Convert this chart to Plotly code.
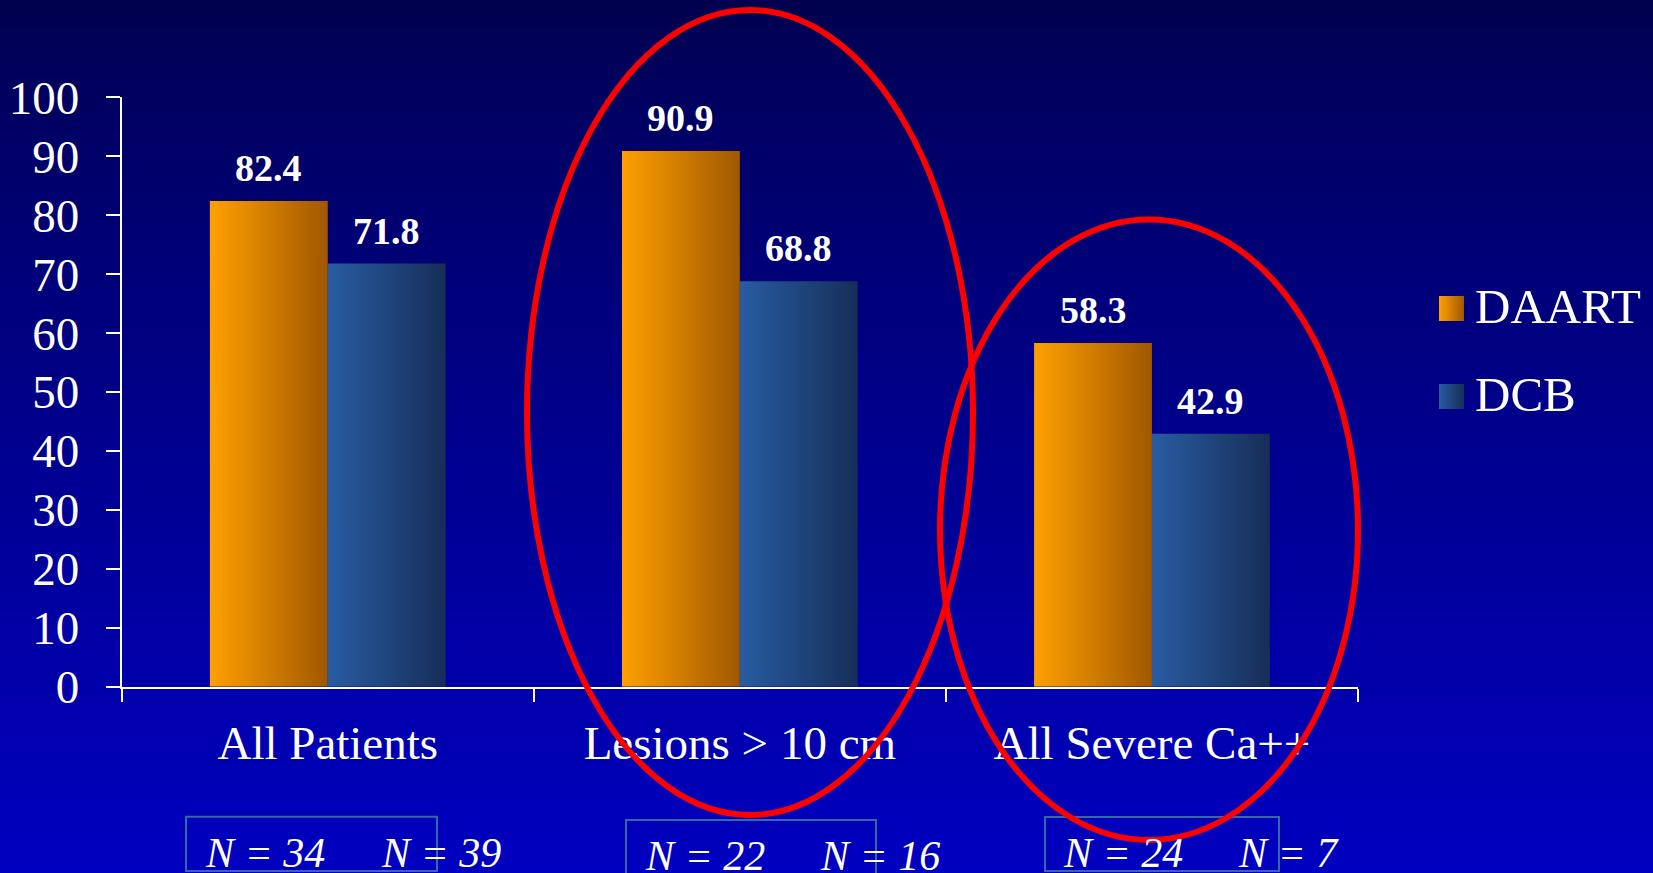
import plotly.graph_objects as go

# ---- data -------------------------------------------------------------
categories = ["All Patients", "Lesions > 10 cm", "All Severe Ca++"]
series_names = ["DAART", "DCB"]
daart_values = [82.4, 90.9, 58.3]
dcb_values = [71.8, 68.8, 42.9]
n_daart = [34, 22, 24]
n_dcb = [39, 16, 7]
y_ticks = list(range(0, 101, 10))

# ---- style ------------------------------------------------------------
W, H = 1653, 873
FONT = "Liberation Serif"
series_colors = {
    "DAART": ("#FFA000", "#A05800"),
    "DCB": ("#285CA2", "#162E58"),
}
BAR_W = 0.286          # width of one bar in category units
X_DOMAIN = [121.7 / W, 1358 / W]
Y_DOMAIN = [(H - 686.7) / H, (H - 97.3) / H]

fig = go.Figure()

# gradient-filled bars drawn as closed polygons on the data axes
for j, (name, values) in enumerate(zip(series_names, [daart_values, dcb_values])):
    c0, c1 = series_colors[name]
    for i, v in enumerate(values):
        center = i + (j - 0.5) * BAR_W
        left, right = center - BAR_W / 2, center + BAR_W / 2
        fig.add_trace(go.Scatter(
            x=[left, left, right, right, left],
            y=[0, v, v, 0, 0],
            mode="lines", line=dict(width=0),
            fill="toself",
            fillgradient=dict(type="horizontal", colorscale=[[0, c0], [1, c1]]),
            hoverinfo="skip", showlegend=False,
            xaxis="x", yaxis="y",
        ))
        fig.add_annotation(
            x=center, y=v, xref="x", yref="y",
            text=f"<b>{v}</b>", showarrow=False,
            yanchor="middle", yshift=33,
            font=dict(family=FONT, size=38, color="white"),
        )

# legend swatches (pixel-space overlay axes)
legend_rows = [(308.5, "DAART"), (396.5, "DCB")]
for y_px, name in legend_rows:
    c0, c1 = series_colors[name]
    fig.add_trace(go.Scatter(
        x=[1451.5], y=[y_px], mode="markers",
        marker=dict(symbol="square", size=25, color=c0,
                    gradient=dict(type="horizontal", color=c1),
                    line=dict(width=0)),
        hoverinfo="skip", showlegend=False, xaxis="x2", yaxis="y2",
    ))
    fig.add_annotation(
        x=1473, y=y_px - 2, xref="x2", yref="y2", text=name, showarrow=False,
        xanchor="left", yanchor="middle",
        font=dict(family=FONT, size=49, color="white"),
    )

# sample-size boxes under each group
n_boxes = [(186, 816.7, 437, 871), (626, 820, 876, 880), (1045, 817, 1279, 871)]
n_text_x = [(265, 441), (705, 880), (1123, 1288)]
n_text_y = [853, 856, 853]
shapes = []
for (x0, y0, x1, y1) in n_boxes:
    shapes.append(dict(type="rect", xref="x2", yref="y2", x0=x0, y0=y0, x1=x1, y1=y1,
                       line=dict(color="#3568A8", width=2), fillcolor="rgba(0,0,0,0)"))
for i in range(len(categories)):
    for xc, n in zip(n_text_x[i], (n_daart[i], n_dcb[i])):
        fig.add_annotation(
            x=xc, y=n_text_y[i], xref="x2", yref="y2", text=f"N = {n}",
            showarrow=False, xanchor="center", yanchor="middle",
            font=dict(family=FONT, size=42, color="white", style="italic"),
        )

# red highlight ellipses
for (cx, cy, rx, ry) in [(750, 412.5, 223, 402.5), (1149, 529.7, 209, 310.3)]:
    shapes.append(dict(type="circle", xref="x2", yref="y2",
                       x0=cx - rx, x1=cx + rx, y0=cy - ry, y1=cy + ry,
                       line=dict(color="#FF0000", width=6), layer="above"))

# vertical background gradient (dark navy to bright blue)
n_strips = 160
bg = []
for k in range(n_strips):
    t = (k + 0.5) / n_strips
    b = int(round(78 + (192 - 78) * t ** 0.85))
    y_top = 1 - k / n_strips
    y_bot = 1 - (k + 1) / n_strips - 0.002
    bg.append(dict(type="rect", xref="paper", yref="paper", x0=0, x1=1,
                   y0=max(y_bot, 0), y1=y_top, line=dict(width=0),
                   fillcolor=f"rgb(0,0,{b})", layer="below"))

fig.update_layout(
    width=W, height=H,
    margin=dict(l=0, r=0, t=0, b=0),
    paper_bgcolor="#00008C",
    plot_bgcolor="rgba(0,0,0,0)",
    showlegend=False,
    shapes=bg + shapes,
    xaxis=dict(
        domain=X_DOMAIN, range=[-0.5, 2.5], automargin=False,
        tickmode="array", tickvals=list(range(len(categories))), ticktext=categories,
        ticks="", showgrid=False, zeroline=False,
        showline=True, linecolor="white", linewidth=2,
        tickfont=dict(family=FONT, size=47, color="white"),
        ticklabelstandoff=14,
        minor=dict(tickmode="array", tickvals=[-0.5, 0.5, 1.5, 2.5],
                   ticks="outside", ticklen=13, tickwidth=2, tickcolor="white",
                   showgrid=False),
        fixedrange=True,
    ),
    yaxis=dict(
        domain=Y_DOMAIN, range=[0, 100], automargin=False,
        tickmode="array", tickvals=y_ticks,
        ticks="outside", ticklen=14, tickwidth=2, tickcolor="white",
        showgrid=False, zeroline=False,
        showline=True, linecolor="white", linewidth=2,
        tickfont=dict(family=FONT, size=47, color="white"),
        ticklabelstandoff=17,
        fixedrange=True,
    ),
    xaxis2=dict(domain=[0, 1], range=[0, W], visible=False, anchor="y2", fixedrange=True),
    yaxis2=dict(domain=[0, 1], range=[H, 0], visible=False, anchor="x2", fixedrange=True),
)

fig.write_html("out.html")
